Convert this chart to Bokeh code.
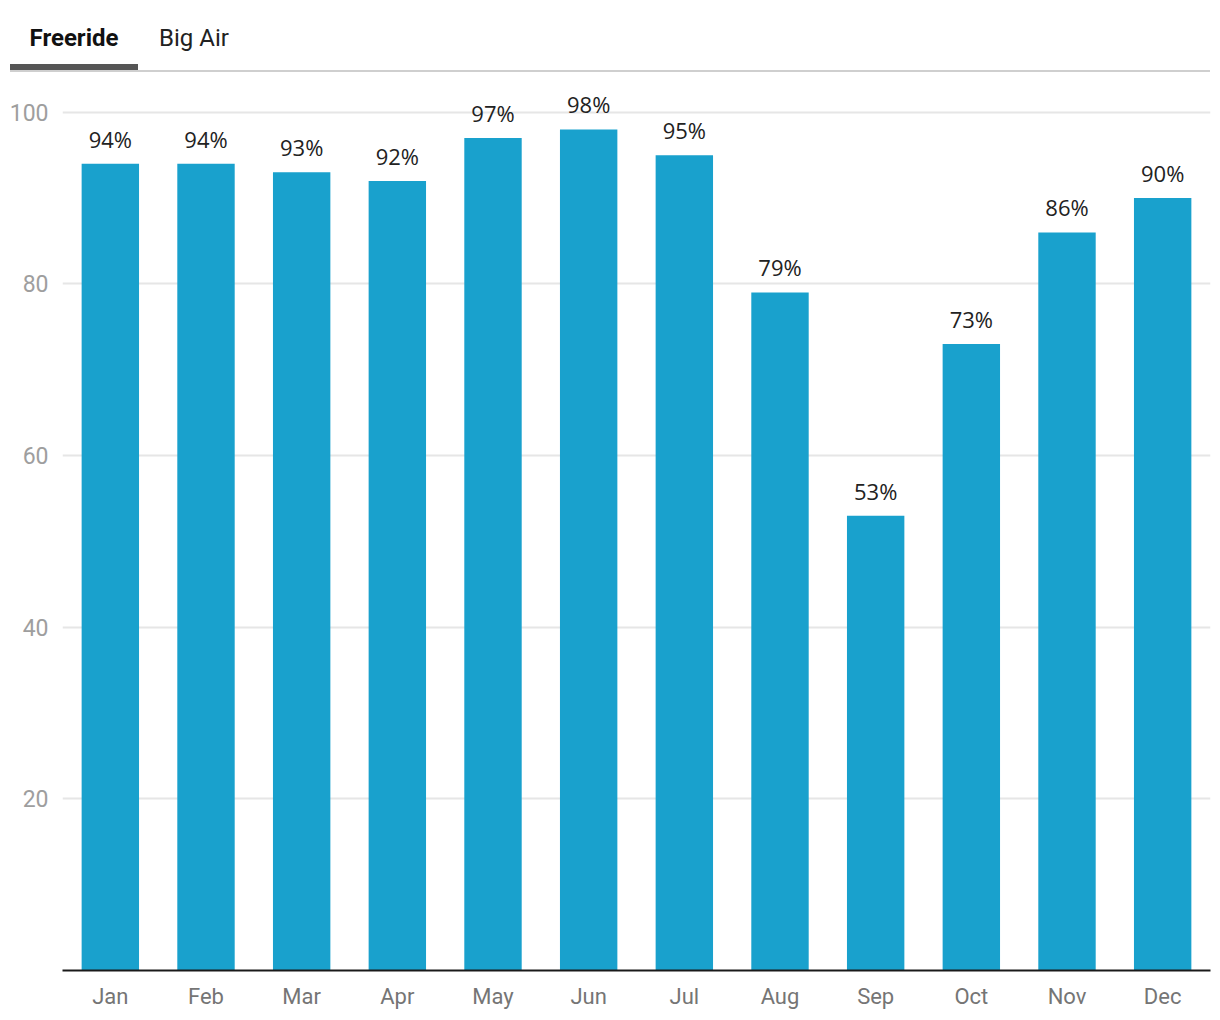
from bokeh.plotting import figure
from bokeh.layouts import column
from bokeh.models import ColumnDataSource, FixedTicker, Range1d, LabelSet, Div
from bokeh.core.properties import value
from bokeh.embed import file_html
from bokeh.resources import INLINE

months = ["Jan", "Feb", "Mar", "Apr", "May", "Jun", "Jul", "Aug", "Sep", "Oct", "Nov", "Dec"]
values = [94, 94, 93, 92, 97, 98, 95, 79, 53, 73, 86, 90]
value_labels = [f"{v}%" for v in values]
y_ticks = [20, 40, 60, 80, 100]
tabs = ["Freeride", "Big Air"]

BAR = "#19a1cd"

# --- tab strip ---
tab_html = f"""
<div style="position:relative;width:1212px;height:72px;font-family:Roboto,sans-serif;font-size:24px;line-height:24px;">
  <div style="position:absolute;left:10px;top:26px;width:128px;text-align:center;font-weight:bold;color:#111;">{tabs[0]}</div>
  <div style="position:absolute;left:134px;top:26px;width:120px;text-align:center;color:#222;">{tabs[1]}</div>
  <div style="position:absolute;left:10px;top:70px;width:1200px;height:2px;background:#cfcfcf;"></div>
  <div style="position:absolute;left:10px;top:64px;width:128px;height:6px;background:#555555;"></div>
</div>
"""
tab_div = Div(text=tab_html, width=1212, height=72, margin=0)

# --- main chart ---
src = ColumnDataSource(dict(month=months, value=values, label=value_labels))
p = figure(x_range=months, y_range=Range1d(0, 103), width=1212, height=946,
           output_backend="svg", toolbar_location=None, margin=0,
           min_border_left=62, min_border_right=2, min_border_top=14, min_border_bottom=48)
p.vbar(x="month", top="value", width=0.6, color=BAR, line_color=None, source=src)
p.add_layout(LabelSet(x="month", y="value", text="label", source=src, y_offset=16,
                      text_align="center", text_baseline="alphabetic",
                      text_font=value("Open Sans"), text_font_size="22px", text_color="#222222"))

p.yaxis.ticker = FixedTicker(ticks=y_ticks)
p.yaxis.axis_line_color = None
p.yaxis.major_tick_line_color = None
p.yaxis.minor_tick_line_color = None
p.yaxis.major_label_text_color = "#9e9e9e"
p.yaxis.major_label_text_font = "Roboto"
p.yaxis.major_label_text_font_size = "23px"
p.yaxis.major_label_standoff = 8

p.xaxis.axis_line_color = "#1a1a1a"
p.xaxis.axis_line_width = 2
p.xaxis.major_tick_line_color = None
p.xaxis.minor_tick_line_color = None
p.xaxis.major_label_text_color = "#757575"
p.xaxis.major_label_text_font = "Roboto"
p.xaxis.major_label_text_font_size = "22px"
p.xaxis.major_label_standoff = 7

p.xgrid.grid_line_color = None
p.ygrid.grid_line_color = "#e6e6e6"
p.ygrid.grid_line_width = 2
p.outline_line_color = None

layout = column(tab_div, p, spacing=0)
open("out.html", "w").write(file_html(layout, INLINE))
